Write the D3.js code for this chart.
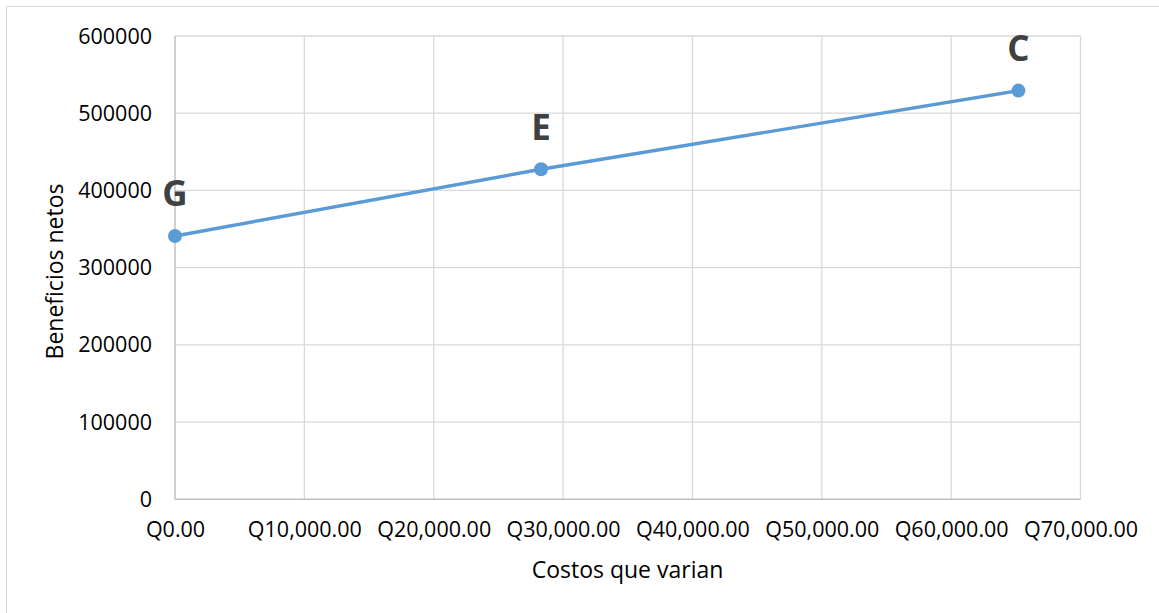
<!DOCTYPE html>
<html>
<head>
<meta charset="utf-8">
<script src="https://cdn.jsdelivr.net/npm/d3@7"></script>
<style>
  html, body { margin: 0; padding: 0; background: #fff; }
  svg { display: block; }
  .tick text { font-family: "Open Sans", sans-serif; fill: #000; }
</style>
</head>
<body>
<svg id="chart" width="1159" height="613"></svg>
<script>
// Alternatives: variable costs (Q) against net benefits
const pointLabels = ["G", "E", "C"];
const costs = [0, 28300, 65200];
const benefits = [341000, 427400, 529300];
const xTicks = [0, 10000, 20000, 30000, 40000, 50000, 60000, 70000];
const yTicks = [0, 100000, 200000, 300000, 400000, 500000, 600000];
const xTitle = "Costos que varian";
const yTitle = "Beneficios netos";

const svg = d3.select("#chart");
const W = 1159, H = 613;
const plot = { left: 175, right: 1080.5, top: 36, bottom: 499.3 };

// chart frame (only top and left edges fall inside the page)
svg.append("rect")
  .attr("x", 6.5).attr("y", 6.5)
  .attr("width", W + 20).attr("height", H + 20)
  .attr("fill", "#fff").attr("stroke", "#d9d9d9").attr("stroke-width", 1);

const x = d3.scaleLinear().domain([0, 70000]).range([plot.left, plot.right]);
const y = d3.scaleLinear().domain([0, 600000]).range([plot.bottom, plot.top]);

// gridlines
const grid = svg.append("g").attr("stroke", "#d9d9d9").attr("stroke-width", 1.3);
grid.selectAll("line.h").data(yTicks.filter(d => d > 0)).join("line")
  .attr("x1", plot.left).attr("x2", plot.right)
  .attr("y1", d => y(d)).attr("y2", d => y(d));
grid.selectAll("line.v").data(xTicks.filter(d => d > 0)).join("line")
  .attr("y1", plot.top).attr("y2", plot.bottom)
  .attr("x1", d => x(d)).attr("x2", d => x(d));

// axis lines
svg.append("line").attr("x1", plot.left).attr("x2", plot.left)
  .attr("y1", plot.top).attr("y2", plot.bottom)
  .attr("stroke", "#bfbfbf").attr("stroke-width", 1.5);
svg.append("line").attr("x1", plot.left).attr("x2", plot.right)
  .attr("y1", plot.bottom).attr("y2", plot.bottom)
  .attr("stroke", "#bfbfbf").attr("stroke-width", 1.5);

// y axis tick labels
const yAxis = d3.axisLeft(y).tickValues(yTicks).tickSize(0).tickPadding(23)
  .tickFormat(d3.format("d"));
svg.append("g").attr("transform", `translate(${plot.left},0)`).call(yAxis)
  .call(g => g.select(".domain").remove())
  .selectAll("text").attr("font-size", 21.5).attr("dy", "0.33em");

// x axis tick labels
const qFmt = d => "Q" + d3.format(",.2f")(d);
const xAxis = d3.axisBottom(x).tickValues(xTicks).tickSize(0).tickPadding(0)
  .tickFormat(qFmt);
svg.append("g").attr("transform", `translate(0,${plot.bottom})`).call(xAxis)
  .call(g => g.select(".domain").remove())
  .selectAll("text").attr("font-size", 21.5).attr("dy", null).attr("y", 38)
  .attr("dominant-baseline", "auto");

// axis titles
svg.append("text")
  .attr("x", 627.5).attr("y", 578)
  .attr("text-anchor", "middle")
  .attr("font-family", "'Open Sans', sans-serif").attr("font-size", 23)
  .attr("fill", "#000").text(xTitle);
svg.append("text")
  .attr("transform", "translate(63,271.5) rotate(-90)")
  .attr("text-anchor", "middle")
  .attr("font-family", "'Open Sans', sans-serif").attr("font-size", 23)
  .attr("fill", "#000").text(yTitle);

// series
const pts = costs.map((c, i) => ({ c, b: benefits[i], label: pointLabels[i] }));
const line = d3.line().x(d => x(d.c)).y(d => y(d.b));
svg.append("path").datum(pts)
  .attr("d", line)
  .attr("fill", "none").attr("stroke", "#5b9bd5").attr("stroke-width", 3.4)
  .attr("stroke-linejoin", "round");
svg.append("g").selectAll("circle").data(pts).join("circle")
  .attr("cx", d => x(d.c)).attr("cy", d => y(d.b)).attr("r", 7)
  .attr("fill", "#5b9bd5");

// point labels
svg.append("g").selectAll("text").data(pts).join("text")
  .attr("x", d => x(d.c)).attr("y", d => y(d.b) - 29.5)
  .attr("text-anchor", "middle")
  .attr("font-family", "'Open Sans', sans-serif").attr("font-weight", "bold")
  .attr("font-size", 35).attr("fill", "#404040")
  .text(d => d.label);
</script>
</body>
</html>
